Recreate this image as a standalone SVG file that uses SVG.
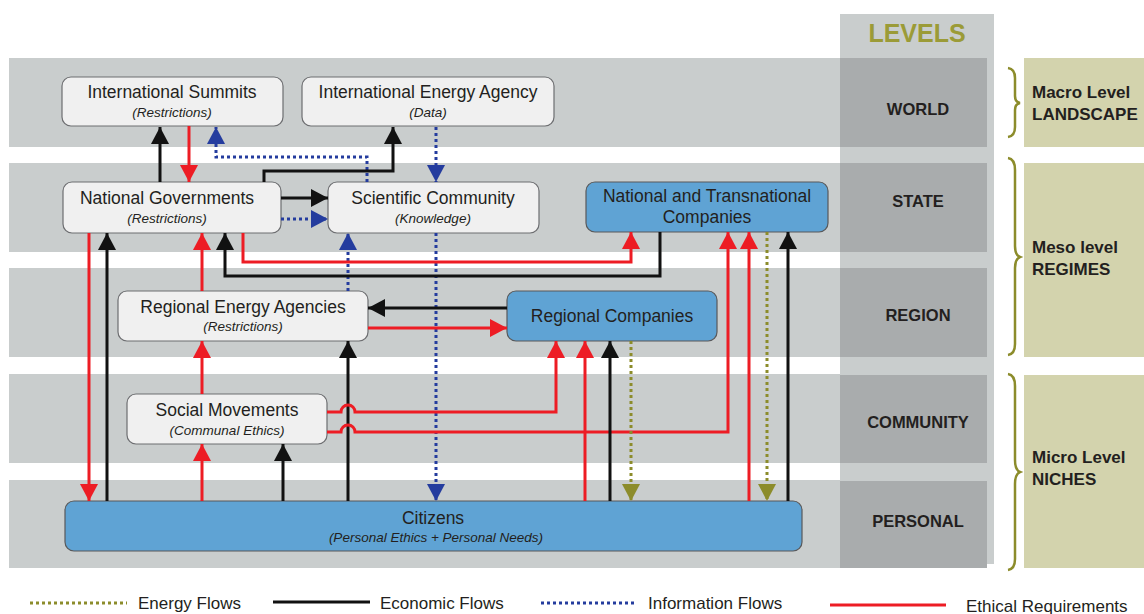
<svg xmlns="http://www.w3.org/2000/svg" width="1144" height="614" viewBox="0 0 1144 614">
<style>
.band{fill:#c9cdcd}
.col{fill:#c9cdcd}
.lvl{fill:#a9acad}
.olv{fill:#d3d3ad}
.brace{fill:none;stroke:#8c8c2b;stroke-width:2.5}
.node{fill:#f0f0f0;stroke:#6d6e71;stroke-width:1.2}
.blue{fill:#5fa3d4;stroke:#58595b;stroke-width:1.2}
.t{font-family:"Liberation Sans",Arial,sans-serif;fill:#231f20}
.ti{font-size:17.5px;text-anchor:middle}
.sub{font-size:13.5px;font-style:italic;text-anchor:middle}
.lv{font-size:16.5px;font-weight:bold;text-anchor:middle}
.rl{font-size:17px;font-weight:bold}
.lg{font-size:17px}
.eco{stroke:#111;stroke-width:3;fill:none}
.eth{stroke:#ed1c24;stroke-width:3;fill:none}
.inf{stroke:#243c9e;stroke-width:3;fill:none;stroke-dasharray:3 3}
.en{stroke:#8c8c2b;stroke-width:3;fill:none;stroke-dasharray:3 3}
</style>
<defs>
<marker id="aK" markerUnits="userSpaceOnUse" markerWidth="18" markerHeight="18" refX="17" refY="9" orient="auto"><path d="M0,0 L17,9 L0,18 z" fill="#111"/></marker>
<marker id="aR" markerUnits="userSpaceOnUse" markerWidth="18" markerHeight="18" refX="17" refY="9" orient="auto"><path d="M0,0 L17,9 L0,18 z" fill="#ed1c24"/></marker>
<marker id="aB" markerUnits="userSpaceOnUse" markerWidth="18" markerHeight="18" refX="17" refY="9" orient="auto"><path d="M0,0 L17,9 L0,18 z" fill="#243c9e"/></marker>
<marker id="aO" markerUnits="userSpaceOnUse" markerWidth="18" markerHeight="18" refX="17" refY="9" orient="auto"><path d="M0,0 L17,9 L0,18 z" fill="#8c8c2b"/></marker>
</defs>
<rect width="1144" height="614" fill="#fff"/>
<g id="bands">
<rect class="band" x="9" y="58" width="831" height="89"/>
<rect class="band" x="9" y="163" width="831" height="89"/>
<rect class="band" x="9" y="268" width="831" height="89"/>
<rect class="band" x="9" y="374" width="831" height="89"/>
<rect class="band" x="9" y="480" width="831" height="88"/>
</g>
<g id="levels">
<rect class="col" x="840" y="14" width="154" height="550"/>
<rect class="lvl" x="840" y="58" width="147" height="89"/>
<rect class="lvl" x="840" y="163" width="147" height="89"/>
<rect class="lvl" x="840" y="268" width="147" height="89"/>
<rect class="lvl" x="840" y="375" width="147" height="88"/>
<rect class="lvl" x="840" y="481" width="147" height="87"/>
<text class="t" x="917" y="42" style="font-size:25px;font-weight:bold;fill:#9b9b37;text-anchor:middle">LEVELS</text>
<text class="t lv" x="918" y="115">WORLD</text>
<text class="t lv" x="918" y="207">STATE</text>
<text class="t lv" x="918" y="321">REGION</text>
<text class="t lv" x="918" y="428">COMMUNITY</text>
<text class="t lv" x="918" y="527">PERSONAL</text>
</g>
<g id="scales">
<rect class="olv" x="1024" y="58" width="120" height="89"/>
<rect class="olv" x="1024" y="163" width="120" height="194"/>
<rect class="olv" x="1024" y="375" width="120" height="193"/>
<path class="brace" d="M1008,68 Q1015,69 1015,78 V96 Q1015,102 1020,103 Q1015,104 1015,110 V127 Q1015,136 1008,137"/>
<path class="brace" d="M1008,158 Q1015,159 1015,170 V246 Q1015,255 1020,257 Q1015,259 1015,268 V344 Q1015,354 1008,355"/>
<path class="brace" d="M1008,374 Q1015,375 1015,386 V460 Q1015,470 1020,472 Q1015,474 1015,484 V559 Q1015,569 1008,570"/>
<text class="t rl" x="1032" y="98">Macro Level</text>
<text class="t rl" x="1032" y="120">LANDSCAPE</text>
<text class="t rl" x="1032" y="253">Meso level</text>
<text class="t rl" x="1032" y="275">REGIMES</text>
<text class="t rl" x="1032" y="463">Micro Level</text>
<text class="t rl" x="1032" y="485">NICHES</text>
</g>
<g id="n-summits">
<rect class="node" x="62" y="77" width="221" height="49" rx="9"/>
<text class="t ti" x="172" y="98">International Summits</text>
<text class="t sub" x="172" y="117">(Restrictions)</text>
</g>
<g id="n-iea">
<rect class="node" x="302" y="77" width="252" height="49" rx="9"/>
<text class="t ti" x="428" y="98">International Energy Agency</text>
<text class="t sub" x="428" y="117">(Data)</text>
</g>
<g id="n-govs">
<rect class="node" x="63" y="182" width="218" height="51" rx="9"/>
<text class="t ti" x="167" y="204">National Governments</text>
<text class="t sub" x="167" y="223">(Restrictions)</text>
</g>
<g id="n-science">
<rect class="node" x="328" y="182" width="211" height="51" rx="9"/>
<text class="t ti" x="433" y="204">Scientific Community</text>
<text class="t sub" x="433" y="223">(Knowledge)</text>
</g>
<g id="n-ntc">
<rect class="blue" x="586" y="182" width="242" height="50" rx="9"/>
<text class="t ti" x="707" y="202">National and Transnational</text>
<text class="t ti" x="707" y="223">Companies</text>
</g>
<g id="n-rea">
<rect class="node" x="118" y="291" width="250" height="50" rx="9"/>
<text class="t ti" x="243" y="313">Regional Energy Agencies</text>
<text class="t sub" x="243" y="331">(Restrictions)</text>
</g>
<g id="n-rc">
<rect class="blue" x="507" y="291" width="210" height="50" rx="9"/>
<text class="t ti" x="612" y="322">Regional Companies</text>
</g>
<g id="n-social">
<rect class="node" x="127" y="394" width="200" height="50" rx="9"/>
<text class="t ti" x="227" y="416">Social Movements</text>
<text class="t sub" x="227" y="435">(Communal Ethics)</text>
</g>
<g id="n-citizens">
<rect class="blue" x="65" y="501" width="737" height="50" rx="9"/>
<text class="t ti" x="433" y="524">Citizens</text>
<text class="t sub" x="436" y="542">(Personal Ethics + Personal Needs)</text>
</g>
<g id="connectors">
<path class="eco" d="M160,182 V127" marker-end="url(#aK)"/>
<path class="eth" d="M189,126 V182" marker-end="url(#aR)"/>
<path class="inf" d="M367,182 V157 H216 V127" marker-end="url(#aB)"/>
<path class="eco" d="M264,182 V171 H393 V127" marker-end="url(#aK)"/>
<path class="inf" d="M436,127 V182" marker-end="url(#aB)"/>
<path class="eco" d="M281,198 H328" marker-end="url(#aK)"/>
<path class="inf" d="M281,219 H328" marker-end="url(#aB)"/>
<path class="inf" d="M436,233 V501" marker-end="url(#aB)"/>
<path class="inf" d="M348,291 V233" marker-end="url(#aB)"/>
<path class="eth" d="M243,233 V262 H631 V232" marker-end="url(#aR)"/>
<path class="eco" d="M660,232 V276 H225 V233" marker-end="url(#aK)"/>
<path class="eth" d="M202,291 V233" marker-end="url(#aR)"/>
<path class="eth" d="M89,233 V501" marker-end="url(#aR)"/>
<path class="eco" d="M107,501 V233" marker-end="url(#aK)"/>
<path class="eco" d="M507,308 H368" marker-end="url(#aK)"/>
<path class="eth" d="M368,328 H507" marker-end="url(#aR)"/>
<path class="eco" d="M348,501 V341" marker-end="url(#aK)"/>
<path class="eth" d="M202,394 V341" marker-end="url(#aR)"/>
<path class="eth" d="M202,501 V444" marker-end="url(#aR)"/>
<path class="eco" d="M283,501 V444" marker-end="url(#aK)"/>
<path class="eth" d="M327,412 H341 A7,7 0 0 1 355,412 H556 V341" marker-end="url(#aR)"/>
<path class="eth" d="M327,432 H341 A7,7 0 0 1 355,432 H728 V232" marker-end="url(#aR)"/>
<path class="eth" d="M585,501 V341" marker-end="url(#aR)"/>
<path class="eco" d="M610,501 V341" marker-end="url(#aK)"/>
<path class="en" d="M631,341 V501" marker-end="url(#aO)"/>
<path class="eth" d="M749,501 V232" marker-end="url(#aR)"/>
<path class="en" d="M767,232 V501" marker-end="url(#aO)"/>
<path class="eco" d="M788,501 V232" marker-end="url(#aK)"/>
</g>
<g id="legend">
<line class="en" x1="30" y1="603" x2="127" y2="603"/>
<text class="t lg" x="138" y="609">Energy Flows</text>
<line class="eco" x1="273" y1="602" x2="370" y2="602"/>
<text class="t lg" x="380" y="609">Economic Flows</text>
<line class="inf" x1="541" y1="603" x2="635" y2="603"/>
<text class="t lg" x="648" y="609">Information Flows</text>
<line class="eth" x1="830" y1="605" x2="946" y2="605"/>
<text class="t lg" x="966" y="612">Ethical Requirements</text>
</g>
</svg>
